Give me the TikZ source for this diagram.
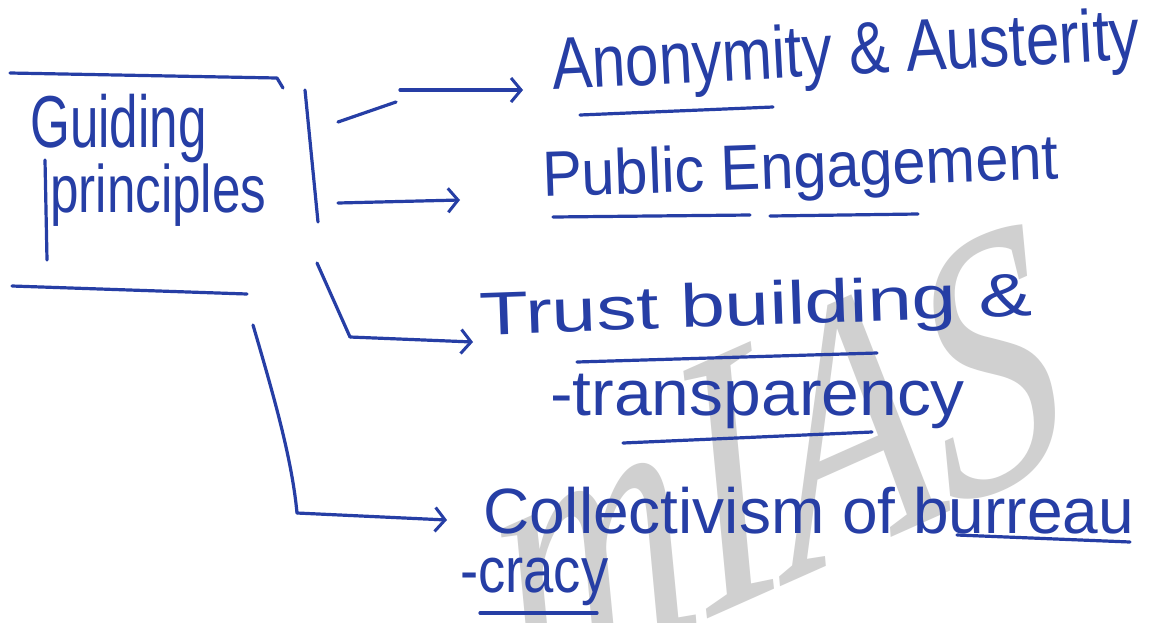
\documentclass[tikz,border=0pt]{standalone}
\usepackage{fontspec}
\setmainfont{Liberation Sans}
\newfontfamily\wmfont{Liberation Serif}
\usetikzlibrary{arrows.meta}
\definecolor{ink}{RGB}{38,62,165}
\definecolor{wmgray}{RGB}{208,208,208}
\begin{document}
\begin{tikzpicture}[x=1pt,y=-1pt,
  ink/.style={draw=ink, line width=3.2pt, line cap=round, line join=round},
  arr/.style={ink, -{Straight Barb[length=10pt,width=24pt,line width=3pt]}},
  txt/.style={anchor=base west, inner sep=0pt, text=ink, font=\fontsize{64}{64}\selectfont},
  wmark/.style={text=wmgray, font=\wmfont\itshape\fontsize{360}{360}\selectfont}
  ]
\useasboundingbox[fill=white] (0,0) rectangle (1159,622);

% watermark
\begin{scope}[shift={(775,460)}, rotate=24, xslant=0.2, xscale=0.78]
  \node[wmark, transform shape] (wm) at (0,0) {mIAS};
\end{scope}

% texts
\node[txt] (guiding) at (30,147) {\scalebox{0.80}[1.15]{Guiding}};
\node[txt] (principles) at (50,212) {\scalebox{0.80}[1.05]{principles}};
\node[txt, rotate=3] (anon) at (553,90) {\scalebox{0.94}[1.15]{Anonymity \& Austerity}};
\node[txt, rotate=2] (public) at (543,197) {\scalebox{0.93}[1.0]{Public Engagement}};
\node[txt, rotate=2] (trust) at (480,335) {\scalebox{1.25}[0.95]{Trust building \&}};
\node[txt] (transp) at (550,415) {\scalebox{1.06}[1.0]{-transparency}};
\node[txt] (collect) at (483,533) {\scalebox{1.0}[1.0]{Collectivism of burreau}};
\node[txt] (cracy) at (460,592) {\scalebox{0.85}[1.0]{-cracy}};

% bracket lines round the title
\coordinate (tl1) at (10,73);  \coordinate (tl2) at (277,78); \coordinate (tl3) at (283,88);
\coordinate (bl1) at (12,286); \coordinate (bl2) at (247,294);
\coordinate (ls1) at (45,160); \coordinate (ls2) at (47,260);
\coordinate (rb1) at (305,90); \coordinate (rb2) at (318,222);
\draw[ink] (tl1) -- (tl2) -- (tl3);
\draw[ink] (bl1) -- (bl2);
\draw[ink] (ls1) -- (ls2);
\draw[ink] (rb1) -- (rb2);

% connectors
\coordinate (s1a) at (338,122); \coordinate (s1b) at (396,102);
\coordinate (a1s) at (400,90);  \coordinate (a1e) at (523,90);
\draw[ink] (s1a) -- (s1b);
\draw[arr] (a1s) -- (a1e);

\coordinate (a2s) at (338,203); \coordinate (a2e) at (460,200);
\draw[arr] (a2s) -- (a2e);

\coordinate (d3a) at (317,263); \coordinate (d3b) at (350,337); \coordinate (a3e) at (473,342);
\draw[ink] (d3a) -- (d3b);
\draw[arr] (d3b) -- (a3e);

\coordinate (v4a) at (253,325); \coordinate (v4b) at (297,513); \coordinate (a4e) at (447,520);
\draw[ink] (v4a) .. controls (275,400) and (292,460) .. (v4b);
\draw[arr] (v4b) -- (a4e);

% underlines
\coordinate (u1a) at (580,115); \coordinate (u1b) at (773,107);
\coordinate (u2a) at (553,217); \coordinate (u2b) at (750,215);
\coordinate (u2c) at (770,216); \coordinate (u2d) at (918,214);
\coordinate (u3a) at (577,362); \coordinate (u3b) at (877,353);
\coordinate (u4a) at (623,443); \coordinate (u4b) at (872,432);
\coordinate (u5a) at (957,535); \coordinate (u5b) at (1130,542);
\coordinate (u6a) at (480,613); \coordinate (u6b) at (597,613);
\draw[ink] (u1a) -- (u1b);
\draw[ink] (u2a) -- (u2b);
\draw[ink] (u2c) -- (u2d);
\draw[ink] (u3a) -- (u3b);
\draw[ink] (u4a) -- (u4b);
\draw[ink] (u5a) -- (u5b);
\draw[ink] (u6a) -- (u6b);
\end{tikzpicture}
\end{document}
